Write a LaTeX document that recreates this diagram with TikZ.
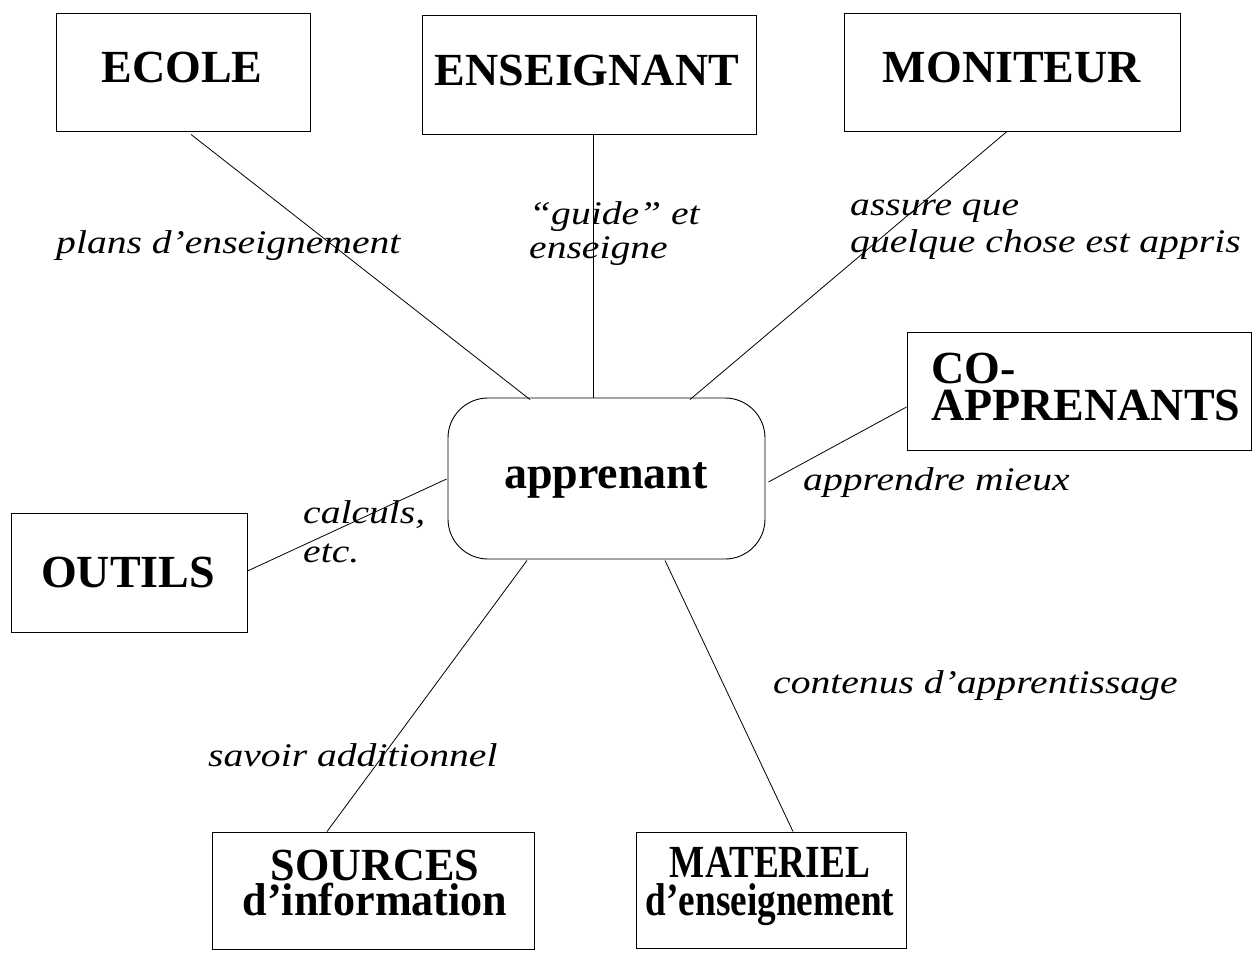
\documentclass[tikz,border=0pt]{standalone}
\usepackage{fontspec}
\usepackage{graphicx}
\setmainfont{Liberation Serif}
\newfontfamily\lblfont{Liberation Serif}[UprightFont={* Italic}, FakeStretch=1.2]
\newcommand{\narrow}[2]{\scalebox{#1}[1]{#2}}
\begin{document}
\begin{tikzpicture}[x=1pt,y=-1pt,
  box/.style={draw, line width=0.9pt, inner sep=0pt},
  hub/.style={draw, line width=0.9pt, inner sep=0pt, rounded corners=40pt},
  boxtext/.style={anchor=base, inner sep=0pt, font=\fontsize{46}{36}\selectfont\bfseries},
  lbl/.style={anchor=base west, inner sep=0pt, font=\lblfont\fontsize{33}{35}\selectfont},
  link/.style={line width=0.8pt}]
\useasboundingbox (0,0) rectangle (1259,967);

% frames
\node[box, minimum width=254pt, minimum height=118pt] (ecole) at (183,72) {};
\node[box, minimum width=334pt, minimum height=119pt] (ens) at (589,74.5) {};
\node[box, minimum width=336pt, minimum height=118pt] (mon) at (1012,72) {};
\node[box, minimum width=344pt, minimum height=118pt] (coapp) at (1079,391) {};
\node[box, minimum width=236pt, minimum height=119pt] (outils) at (129,572.5) {};
\node[hub, minimum width=317pt, minimum height=161pt] (app) at (606.5,478.5) {};
\node[box, minimum width=322pt, minimum height=117pt] (src) at (373,890.5) {};
\node[box, minimum width=270pt, minimum height=116pt] (mat) at (771,890) {};

% frame titles (multi-line titles are placed by their last baseline)
\node[boxtext] (ecoleT) at (182,82) {ECOLE};
\node[boxtext] (ensT) at (587,85) {ENSEIGNANT};
\node[boxtext] (monT) at (1012,82) {MONITEUR};
\node[boxtext] (outilsT) at (128,587) {OUTILS};
\node[boxtext] (appT) at (606,488) {apprenant};
\node[boxtext, anchor=base west, align=left, font=\fontsize{46}{37}\selectfont\bfseries] (coappT) at (931,420) {CO-\\APPRENANTS};
\node[boxtext, align=center, font=\fontsize{46}{35}\selectfont\bfseries] (srcT) at (375,915) {\narrow{0.96}{SOURCES}\\\narrow{0.96}{d’information}};
\node[boxtext, align=center, font=\fontsize{46}{38}\selectfont\bfseries] (matT) at (770,915) {\narrow{0.81}{MATERIEL}\\\narrow{0.81}{d’enseignement}};

% connectors
\draw[link] ([shift={(8,3)}]ecole.south) -- ([shift={(-76.5,2)}]app.north);
\draw[link] ([shift={(4,0)}]ens.south) -- ([shift={(-13.5,0)}]app.north);
\draw[link] ([shift={(-5,0)}]mon.south) -- ([shift={(83.5,2)}]app.north);
\draw[link] ([shift={(0,16)}]coapp.west) -- ([shift={(3,3.5)}]app.east);
\draw[link] ([shift={(0,-1.5)}]outils.east) -- ([shift={(-1,0.5)}]app.west);
\draw[link] ([shift={(-46,0)}]src.north) -- ([shift={(-79.5,1)}]app.south);
\draw[link] ([shift={(22,0)}]mat.north) -- ([shift={(58.5,1)}]app.south);

% link labels (multi-line labels are placed by their last baseline)
\node[lbl] (l1) at (56,253) {plans d’enseignement};
\node[lbl, align=left, font=\lblfont\fontsize{33}{34}\selectfont] (l2) at (529,258) {“guide” et\\enseigne};
\node[lbl, align=left, font=\lblfont\fontsize{33}{37}\selectfont] (l3) at (850,252) {assure que\\quelque chose est appris};
\node[lbl] (l4) at (803,490) {apprendre mieux};
\node[lbl, align=left, font=\lblfont\fontsize{33}{39}\selectfont] (l5) at (303,562) {calculs,\\etc.};
\node[lbl] (l6) at (208,766) {savoir additionnel};
\node[lbl] (l7) at (773,693) {contenus d’apprentissage};
\end{tikzpicture}
\end{document}
